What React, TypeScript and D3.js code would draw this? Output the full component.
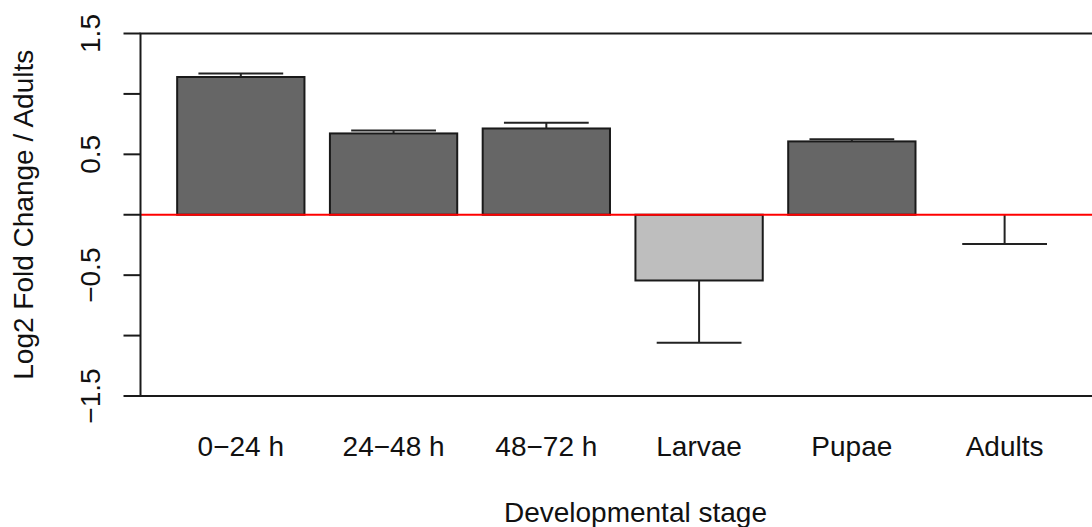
import { useEffect, useRef } from 'react';
import * as d3 from 'd3';

const stages = ['0\u221224 h', '24\u221248 h', '48\u221272 h', 'Larvae', 'Pupae', 'Adults'];
const foldChange = [1.14, 0.673, 0.714, -0.544, 0.607, 0];
const errors = [0.028, 0.025, 0.047, 0.516, 0.017, 0.243];
const barColors = ['#666666', '#666666', '#666666', '#bebebe', '#666666', '#666666'];
const yTicks = [-1.5, -1, -0.5, 0, 0.5, 1, 1.5];
const yTickLabels = ['\u22121.5', '', '\u22120.5', '', '0.5', '', '1.5'];

const W = 1092;
const H = 527;
const FONT = '"Liberation Sans", Arial, sans-serif';
const FS = '28px';

const App = () => {
  const svgRef = useRef<SVGSVGElement>(null);

  useEffect(() => {
    const svg = d3.select(svgRef.current);
    svg.selectAll('*').remove();

    // R barplot layout: width 1, space 0.2, 4% axis extension
    const n = stages.length;
    const xMax = 0.2 + 1.2 * n;
    const pad = (xMax - 0.2) * 0.04;
    const x = d3.scaleLinear().domain([0.2 - pad, xMax + pad]).range([140.5, 140.5 + (xMax - 0.2 + 2 * pad) * 127.3]);
    const y = d3.scaleLinear().domain([-1.5, 1.5]).range([396, 33.5]);

    const left = x(0.2 - pad);
    const right = x(xMax + pad);

    const g = svg.append('g');

    // bars
    stages.forEach((s, i) => {
      const x0 = 0.2 + 1.2 * i;
      const v = foldChange[i];
      g.append('rect')
        .attr('x', x(x0))
        .attr('width', x(x0 + 1) - x(x0))
        .attr('y', y(Math.max(0, v)))
        .attr('height', Math.abs(y(v) - y(0)))
        .attr('fill', barColors[i])
        .attr('stroke', '#1a1a1a')
        .attr('stroke-width', 2);
    });

    // error bars (away from zero)
    stages.forEach((s, i) => {
      const cx = 0.2 + 1.2 * i + 0.5;
      const v = foldChange[i];
      const end = v > 0 ? v + errors[i] : v - errors[i];
      g.append('line')
        .attr('x1', x(cx)).attr('x2', x(cx))
        .attr('y1', y(v)).attr('y2', y(end))
        .attr('stroke', '#222').attr('stroke-width', 2);
      g.append('line')
        .attr('x1', x(cx - 0.333)).attr('x2', x(cx + 0.333))
        .attr('y1', y(end)).attr('y2', y(end))
        .attr('stroke', '#222').attr('stroke-width', 2);
    });

    // zero reference
    g.append('line')
      .attr('x1', left).attr('x2', W)
      .attr('y1', y(0)).attr('y2', y(0))
      .attr('stroke', '#ff0000').attr('stroke-width', 2);

    // box
    g.append('rect')
      .attr('x', left).attr('y', y(1.5))
      .attr('width', right - left).attr('height', y(-1.5) - y(1.5))
      .attr('fill', 'none').attr('stroke', '#1a1a1a').attr('stroke-width', 2);

    // y axis ticks
    yTicks.forEach((t, i) => {
      g.append('line')
        .attr('x1', left - 17).attr('x2', left)
        .attr('y1', y(t)).attr('y2', y(t))
        .attr('stroke', '#1a1a1a').attr('stroke-width', 2);
      if (yTickLabels[i]) {
        g.append('text')
          .attr('transform', `translate(100, ${y(t)}) rotate(-90)`)
          .attr('text-anchor', 'middle')
          .style('font-family', FONT)
          .style('font-size', FS)
          .attr('fill', '#111')
          .text(yTickLabels[i]);
      }
    });

    // category labels
    stages.forEach((s, i) => {
      g.append('text')
        .attr('x', x(0.2 + 1.2 * i + 0.5))
        .attr('y', 456)
        .attr('text-anchor', 'middle')
        .style('font-family', FONT)
        .style('font-size', FS)
        .attr('fill', '#111')
        .text(s);
    });

    // axis titles
    g.append('text')
      .attr('x', (left + right) / 2)
      .attr('y', 522)
      .attr('text-anchor', 'middle')
      .style('font-family', FONT)
      .style('font-size', FS)
      .attr('fill', '#111')
      .text('Developmental stage');

    g.append('text')
      .attr('transform', `translate(33, ${(y(1.5) + y(-1.5)) / 2}) rotate(-90)`)
      .attr('text-anchor', 'middle')
      .style('font-family', FONT)
      .style('font-size', FS)
      .attr('fill', '#111')
      .text('Log2 Fold Change / Adults');
  }, []);

  return (
    <svg
      ref={svgRef}
      width={W}
      height={H}
      style={{ position: 'absolute', left: 0, top: 0, background: '#fff' }}
    />
  );
};

export default App;
